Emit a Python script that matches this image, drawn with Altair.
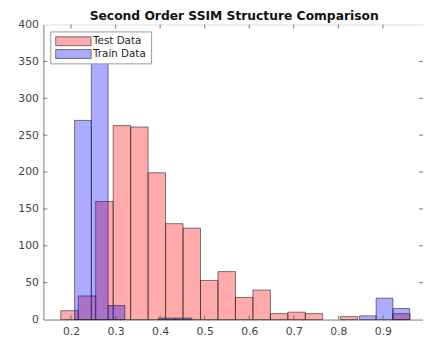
import altair as alt
import pandas as pd

# Bin layouts
test_start = 0.177
test_width = 0.0392
test_counts = [12, 32, 160, 263, 261, 199, 130, 124, 53, 65, 30, 40, 8, 10, 8, 0, 4, 0, 0, 8]

train_start = 0.208
train_width = 0.0376
train_counts = [270, 370, 19, 0, 0, 2, 2, 0, 0, 0, 0, 0, 0, 0, 0, 0, 0, 5, 29, 15]

title_text = "Second Order SSIM Structure Comparison"
series_names = ["Test Data", "Train Data"]
series_colors = ["rgba(255,0,0,0.33)", "rgba(0,0,255,0.33)"]
x_ticks = [0.2, 0.3, 0.4, 0.5, 0.6, 0.7, 0.8, 0.9]
y_ticks = [0, 50, 100, 150, 200, 250, 300, 350, 400]

rows = []
for name, s0, w, counts in [
    (series_names[0], test_start, test_width, test_counts),
    (series_names[1], train_start, train_width, train_counts),
]:
    for i, c in enumerate(counts):
        if c > 0:
            rows.append({"series": name, "start": s0 + i * w, "end": s0 + (i + 1) * w,
                         "count": c, "base": 0})
df = pd.DataFrame(rows)

W, H = 386, 300
xscale = alt.Scale(domain=[0.138, 0.99], nice=False, zero=False)
yscale = alt.Scale(domain=[0, 400], nice=False)
label_style = dict(labelFont="DejaVu Sans", labelFontSize=11, labelColor="#444")
x_axis = alt.Axis(values=x_ticks, format=".1f", title=None, grid=False,
                  ticks=False, labelPadding=6, **label_style)
y_axis = alt.Axis(values=y_ticks, title=None, grid=False, ticks=False,
                  labelPadding=5, labelOverlap=False, **label_style)
edge = dict(stroke="#222", strokeWidth=0.8, strokeOpacity=0.75)

bars = alt.Chart(df).mark_bar(**edge).encode(
    x=alt.X("start:Q", scale=xscale, axis=x_axis),
    x2="end:Q",
    y=alt.Y("count:Q", scale=yscale, stack=None, axis=y_axis),
    y2="base:Q",
    color=alt.Color("series:N",
                    scale=alt.Scale(domain=series_names, range=series_colors),
                    legend=None),
    order=alt.Order("series:N"),
)

xt = pd.DataFrame({"v": x_ticks})
yt = pd.DataFrame({"v": y_ticks[1:-1]})
tick_style = dict(color="#555", strokeWidth=0.8)
xb = alt.Chart(xt).mark_rule(**tick_style).encode(
    x=alt.X("v:Q", scale=xscale, axis=x_axis), y=alt.value(H), y2=alt.value(H - 4))
xtop = alt.Chart(xt).mark_rule(**tick_style).encode(
    x=alt.X("v:Q", scale=xscale, axis=x_axis), y=alt.value(0), y2=alt.value(4))
yl = alt.Chart(yt).mark_rule(**tick_style).encode(
    y=alt.Y("v:Q", scale=yscale, axis=y_axis), x=alt.value(0), x2=alt.value(4))
yr = alt.Chart(yt).mark_rule(**tick_style).encode(
    y=alt.Y("v:Q", scale=yscale, axis=y_axis), x=alt.value(W - 4), x2=alt.value(W))

# Title drawn as a text mark for exact placement
title_layer = alt.Chart(pd.DataFrame({"t": [title_text]})).mark_text(
    align="center", baseline="alphabetic", font="DejaVu Sans", fontSize=12.5,
    fontWeight="bold", color="#111"
).encode(x=alt.value(W / 2 + 1), y=alt.value(-5), text="t:N")

# Legend box (drawn by hand to get MATLAB-style wide swatches)
leg_df = pd.DataFrame({"series": series_names})
legend_box = alt.Chart(leg_df.head(1)).mark_rect(
    fill="white", stroke="#999", strokeWidth=1
).encode(x=alt.value(7.5), x2=alt.value(110), y=alt.value(7.5), y2=alt.value(40))

legend_layers = [legend_box]
for i, name in enumerate(series_names):
    one = leg_df[leg_df.series == name]
    y0 = 12.5 + i * 13
    legend_layers.append(
        alt.Chart(one).mark_rect(**edge, fill=series_colors[i]).encode(
            x=alt.value(12.5), x2=alt.value(48.5), y=alt.value(y0), y2=alt.value(y0 + 9))
    )
    legend_layers.append(
        alt.Chart(one).mark_text(align="left", baseline="middle", font="DejaVu Sans",
                                 fontSize=10.5, color="#222").encode(
            x=alt.value(50.5), y=alt.value(y0 + 4.7), text="series:N")
    )

chart = alt.layer(bars, xb, xtop, yl, yr, title_layer, *legend_layers).properties(
    width=W, height=H,
    autosize=alt.AutoSizeParams(type="none"),
    padding={"left": 36, "top": 14, "right": 0, "bottom": 20},
).configure_view(
    stroke="#888", strokeWidth=1
).configure_axis(
    labelFont="DejaVu Sans", labelFontSize=11, labelColor="#444",
    domainColor="#777", domainWidth=1,
).configure(background="white")

chart.save("out.html", embed_options={"renderer": "svg", "actions": False})
